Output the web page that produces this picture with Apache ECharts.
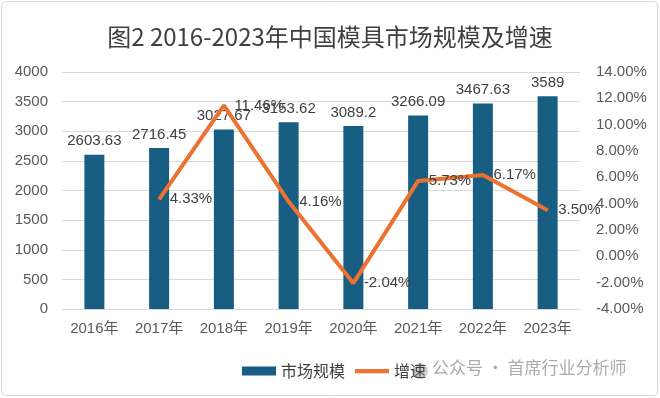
<!DOCTYPE html>
<html><head><meta charset="utf-8">
<script src="https://cdn.jsdelivr.net/npm/echarts@6/dist/echarts.min.js"></script>
<style>html,body{margin:0;padding:0;background:#fff}#c{width:660px;height:398px}</style>
</head><body><div id="c"></div>
<script>
const categories = ['2016年','2017年','2018年','2019年','2020年','2021年','2022年','2023年'];
const marketSize = [2603.63, 2716.45, 3027.67, 3153.62, 3089.2, 3266.09, 3467.63, 3589];
const growth = [null, 4.33, 11.46, 4.16, -2.04, 5.73, 6.17, 3.50];
const FONT = '"Liberation Sans","Noto Sans CJK SC",sans-serif';
const chart = echarts.init(document.getElementById('c'));
chart.setOption({
  animation: false,
  textStyle: {fontFamily: FONT},
  title: {text: '图2 2016-2023年中国模具市场规模及增速', left: 'center', top: 20,
    textStyle: {fontSize: 24, fontWeight: 'normal', color: '#404040', fontFamily: '"Noto Sans CJK SC",sans-serif'}},
  graphic: [
    {type: 'rect', shape: {x: 1.5, y: 1.5, width: 656, height: 394, r: 4}, style: {fill: 'none', stroke: '#d9d9d9', lineWidth: 1}},
    {type: 'circle', shape: {cx: 420, cy: 371, r: 8}, style: {fill: '#cfcfcf'}},
    {type: 'text', left: 432, top: 359, style: {text: '公众号 · 首席行业分析师', fill: 'rgba(150,150,150,0.8)', font: '17px "Noto Sans CJK SC",sans-serif'}}
  ],
  grid: {left: 62, right: 80, top: 72, bottom: 89},
  legend: {top: 358, left: 237, itemGap: 10, textStyle: {fontSize: 16, color: '#404040', fontFamily: '"Noto Sans CJK SC",sans-serif'},
    data: [{name: '市场规模', icon: 'rect'}, {name: '增速', icon: 'path://M0,0L40,0L40,5L0,5Z'}], itemWidth: 34, itemHeight: 9},
  xAxis: {type: 'category', data: categories, axisTick: {show: false},
    axisLine: {lineStyle: {color: '#d9d9d9'}},
    axisLabel: {fontSize: 15, color: '#595959', margin: 12}},
  yAxis: [
    {type: 'value', min: 0, max: 4000, interval: 500,
      axisLine: {show: false}, axisTick: {show: false},
      axisLabel: {fontSize: 15, color: '#595959', margin: 14, formatter: v => String(v)},
      splitLine: {lineStyle: {color: '#d9d9d9'}}},
    {type: 'value', min: -4, max: 14, interval: 2,
      axisLine: {show: false}, axisTick: {show: false}, splitLine: {show: false},
      axisLabel: {fontSize: 15, color: '#595959', margin: 16, formatter: v => v.toFixed(2) + '%'}}
  ],
  series: [
    {name: '市场规模', type: 'bar', data: marketSize, barWidth: 20,
      itemStyle: {color: '#175e82'},
      label: {show: true, position: 'top', distance: 6, fontSize: 15, color: '#404040'}},
    {name: '增速', type: 'line', yAxisIndex: 1, data: growth, showSymbol: true, symbol: 'circle', symbolSize: 1,
      lineStyle: {color: '#ed7130', width: 4}, itemStyle: {color: '#ed7130'},
      label: {show: true, position: 'right', distance: 10, fontSize: 15, color: '#404040', formatter: p => p.value.toFixed(2) + '%'}}
  ]
});
</script></body></html>
